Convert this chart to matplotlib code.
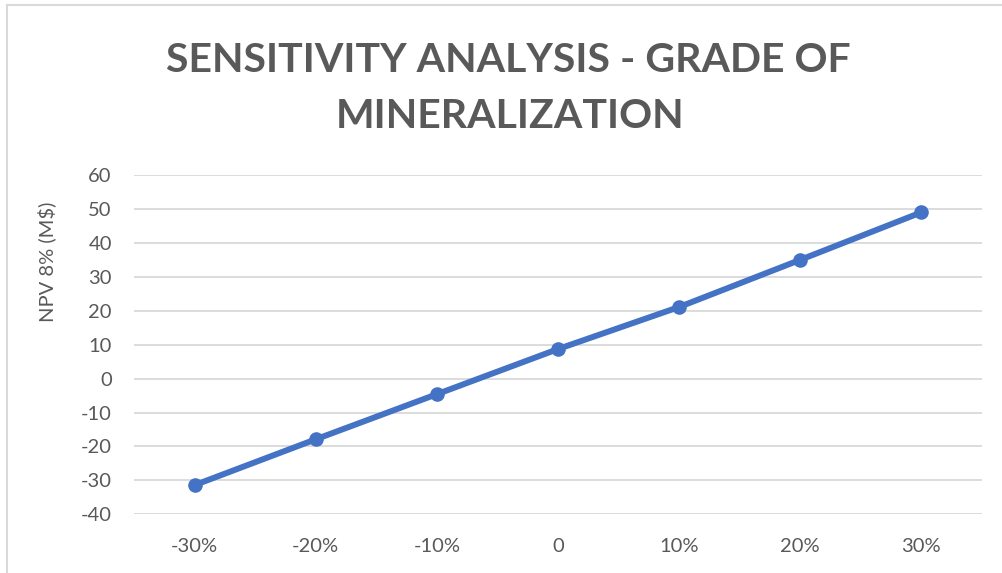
import matplotlib.pyplot as plt
from matplotlib.lines import Line2D

# data
categories = ['-30%', '-20%', '-10%', '0', '10%', '20%', '30%']
npv_values = [-31.4, -17.9, -4.6, 8.7, 21.1, 35.0, 49.0]
y_ticks = [-40, -30, -20, -10, 0, 10, 20, 30, 40, 50, 60]

title_lines = ['SENSITIVITY ANALYSIS - GRADE OF', 'MINERALIZATION']
y_label = 'NPV 8% (M$)'

W, H = 1002, 573
text_color = '#595959'
grid_color = '#d9d9d9'
line_color = '#4472c4'
body_font = ['Lato', 'DejaVu Sans']
title_font = ['Lato', 'DejaVu Sans']

plt.rcParams['axes.unicode_minus'] = False

fig = plt.figure(figsize=(W / 100, H / 100), dpi=100)
fig.patch.set_facecolor('white')

# plot area in pixels: x 134..982, y 175..514
ax = fig.add_axes([134 / W, 1 - 514.3 / H, (982 - 134) / W, (514.3 - 175) / H])

x = list(range(len(categories)))
ax.plot(x, npv_values, color=line_color, linewidth=4.3, marker='o',
        markersize=10.5, markeredgewidth=0, solid_capstyle='round', zorder=3)

ax.set_xlim(-0.5, len(categories) - 0.5)
ax.set_ylim(y_ticks[0], y_ticks[-1])
ax.set_yticks(y_ticks)
ax.set_xticks(x)
ax.set_xticklabels(categories)
ax.grid(axis='y', color=grid_color, linewidth=1.3)
ax.set_axisbelow(True)
for s in ax.spines.values():
    s.set_visible(False)
ax.tick_params(axis='both', length=0, labelcolor=text_color, labelsize=14.5)
ax.tick_params(axis='y', pad=16)
ax.tick_params(axis='x', pad=17)
for lab in ax.get_xticklabels() + ax.get_yticklabels():
    lab.set_family(body_font)

fig.text(47 / W, 1 - 262 / H, y_label, rotation=90, ha='center', va='center',
         color=text_color, fontsize=14.5, family=body_font)

# two-line title, baselines at y=72 and y=128
fig.text(508 / W, 1 - 72 / H, title_lines[0], ha='center', va='baseline',
         color=text_color, fontsize=29.5, fontweight='bold', family=title_font)
fig.text(510 / W, 1 - 128 / H, title_lines[1], ha='center', va='baseline',
         color=text_color, fontsize=29.5, fontweight='bold', family=title_font)

# chart frame visible on the left and top edges
fig.add_artist(Line2D([6.5 / W, 6.5 / W], [0, 1 - 4.5 / H], transform=fig.transFigure,
                      color=grid_color, linewidth=1.5))
fig.add_artist(Line2D([6.5 / W, 1], [1 - 4.5 / H, 1 - 4.5 / H], transform=fig.transFigure,
                      color=grid_color, linewidth=1.5))

fig.savefig('out.png', dpi=100, facecolor='white')
